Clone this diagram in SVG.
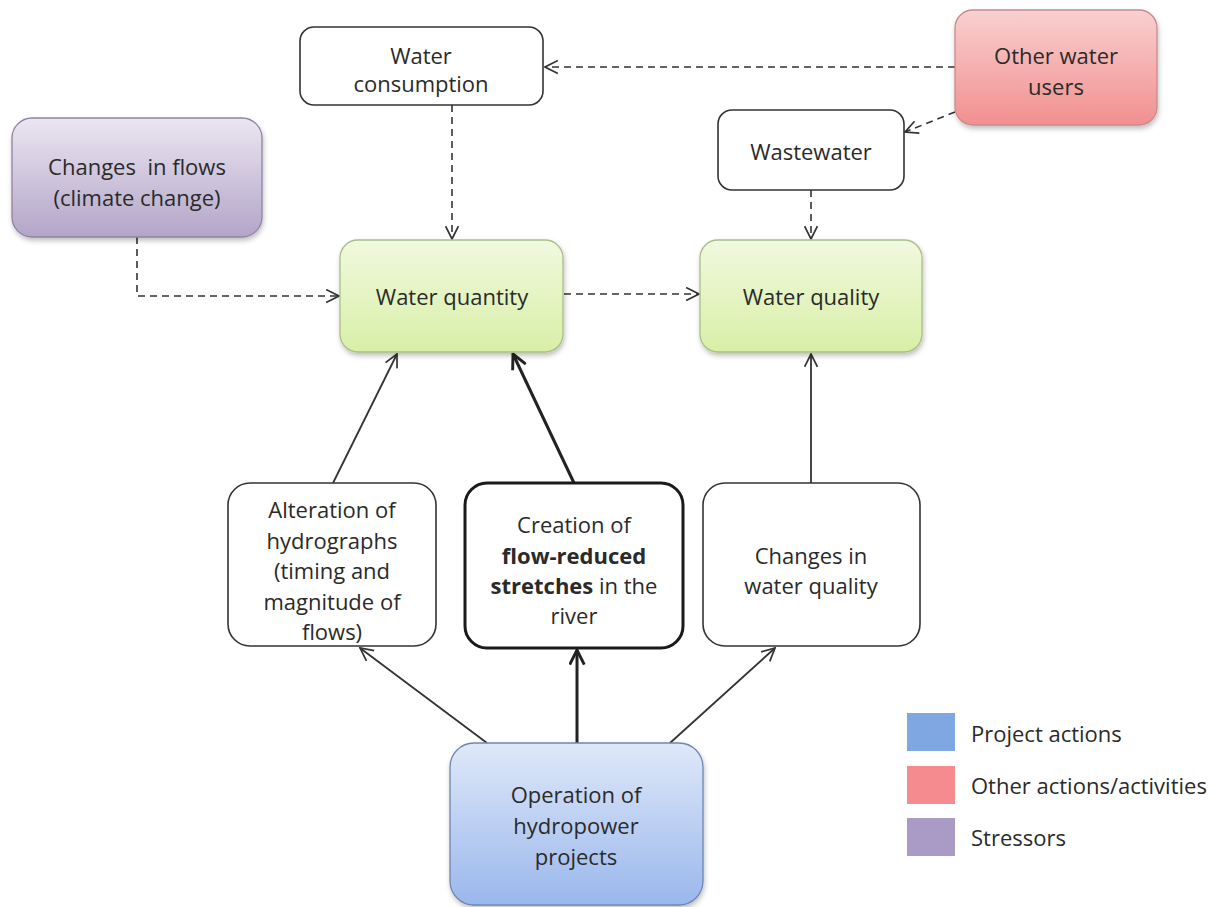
<svg xmlns="http://www.w3.org/2000/svg" width="1222" height="907" viewBox="0 0 1222 907">
<defs>
<linearGradient id="gGreen" x1="0" y1="0" x2="0" y2="1"><stop offset="0" stop-color="#f1f9de"/><stop offset="1" stop-color="#d8efa6"/></linearGradient>
<linearGradient id="gPurple" x1="0" y1="0" x2="0" y2="1"><stop offset="0" stop-color="#ebe6f1"/><stop offset="1" stop-color="#b3a5c8"/></linearGradient>
<linearGradient id="gPink" x1="0" y1="0" x2="0" y2="1"><stop offset="0" stop-color="#f9d0d0"/><stop offset="1" stop-color="#f28f8f"/></linearGradient>
<linearGradient id="gBlue" x1="0" y1="0" x2="0" y2="1"><stop offset="0" stop-color="#dfe8f9"/><stop offset="1" stop-color="#9ab7ec"/></linearGradient>
<filter id="sh" x="-10%" y="-10%" width="125%" height="130%"><feDropShadow dx="1" dy="3" stdDeviation="2.5" flood-color="#000" flood-opacity="0.25"/></filter>
<marker id="ah" viewBox="0 0 14 14" refX="13" refY="7" markerWidth="15" markerHeight="15" markerUnits="userSpaceOnUse" orient="auto">
<path d="M1,1 L13,7 L1,13" fill="none" stroke="#333" stroke-width="1.6"/>
</marker>
<marker id="ahb" viewBox="0 0 14 14" refX="13" refY="7" markerWidth="17" markerHeight="17" markerUnits="userSpaceOnUse" orient="auto">
<path d="M1,1 L13,7 L1,13" fill="none" stroke="#222" stroke-width="2.4"/>
</marker>
<style>
text{font-family:"Open Sans",Lato,"Liberation Sans",sans-serif;font-size:22px;fill:#2a2a2a;text-anchor:middle}
.plain{fill:#fff;stroke:#333;stroke-width:1.6}
.green{fill:url(#gGreen);stroke:#a9bf86;stroke-width:1.3}
.dash{fill:none;stroke:#333;stroke-width:1.6;stroke-dasharray:7,5;marker-end:url(#ah)}
.solid{fill:none;stroke:#333;stroke-width:1.8;marker-end:url(#ah)}
.thick{fill:none;stroke:#222;stroke-width:3;marker-end:url(#ahb)}
.leg{text-anchor:start}
</style>
</defs>
<rect width="1222" height="907" fill="#fff"/>

<g id="connectors">
<path class="dash" d="M955,67 L545,67"/>
<path class="dash" d="M955,112 L905,132"/>
<path class="dash" d="M452,105 L452,239"/>
<path class="dash" d="M811,190 L811,239"/>
<path class="dash" d="M137,237 L137,296 L339,296"/>
<path class="dash" d="M564,294 L699,294"/>
<path class="solid" d="M333,483 L397,354"/>
<path class="thick" d="M574,483 L513,354"/>
<path class="solid" d="M811,483 L811,354"/>
<path class="solid" d="M487,743 L360,648"/>
<path class="thick" d="M577,743 L577,650"/>
<path class="solid" d="M670,743 L775,648"/>
</g>

<g id="water-consumption">
<rect class="plain" x="300" y="27" width="243" height="78" rx="14"/>
<text x="421" y="64">Water</text>
<text x="421" y="92">consumption</text>
</g>

<g id="other-water-users">
<rect x="955" y="10" width="202" height="115" rx="18" fill="url(#gPink)" stroke="#c98a8a" stroke-width="1.3" filter="url(#sh)"/>
<text x="1056" y="64">Other water</text>
<text x="1056" y="95">users</text>
</g>

<g id="wastewater">
<rect class="plain" x="718" y="110" width="186" height="80" rx="14"/>
<text x="811" y="160">Wastewater</text>
</g>

<g id="changes-in-flows">
<rect x="12" y="118" width="250" height="119" rx="20" fill="url(#gPurple)" stroke="#8e84a0" stroke-width="1.3" filter="url(#sh)"/>
<text x="137" y="175" xml:space="preserve">Changes  in flows</text>
<text x="137" y="206">(climate change)</text>
</g>

<g id="water-quantity">
<rect class="green" x="340" y="240" width="223" height="112" rx="18" filter="url(#sh)"/>
<text x="452" y="305">Water quantity</text>
</g>

<g id="water-quality">
<rect class="green" x="700" y="240" width="222" height="112" rx="18" filter="url(#sh)"/>
<text x="811" y="305">Water quality</text>
</g>

<g id="alteration-of-hydrographs">
<rect class="plain" x="228" y="483" width="208" height="163" rx="22"/>
<text x="332" y="518">Alteration of</text>
<text x="332" y="549">hydrographs</text>
<text x="332" y="579">(timing and</text>
<text x="332" y="610">magnitude of</text>
<text x="332" y="640">flows)</text>
</g>

<g id="flow-reduced-stretches">
<rect x="465" y="483" width="218" height="165" rx="22" fill="#fff" stroke="#1a1a1a" stroke-width="3"/>
<text x="574" y="533">Creation of</text>
<text x="574" y="564" font-weight="bold">flow-reduced</text>
<text x="574" y="594"><tspan font-weight="bold">stretches</tspan> in the</text>
<text x="574" y="624">river</text>
</g>

<g id="changes-in-water-quality">
<rect class="plain" x="703" y="483" width="217" height="163" rx="22"/>
<text x="811" y="564">Changes in</text>
<text x="811" y="594">water quality</text>
</g>

<g id="operation-of-hydropower">
<rect x="450" y="743" width="253" height="162" rx="24" fill="url(#gBlue)" stroke="#6f86b0" stroke-width="1.3" filter="url(#sh)"/>
<text x="576" y="803">Operation of</text>
<text x="576" y="834">hydropower</text>
<text x="576" y="865">projects</text>
</g>

<g id="legend">
<rect x="907" y="713" width="48" height="38" fill="#7fa8e2"/>
<text class="leg" x="971" y="742">Project actions</text>
<rect x="907" y="766" width="48" height="38" fill="#f58b8f"/>
<text class="leg" x="971" y="794">Other actions/activities</text>
<rect x="907" y="818" width="48" height="38" fill="#a99bc6"/>
<text class="leg" x="971" y="846">Stressors</text>
</g>
</svg>
